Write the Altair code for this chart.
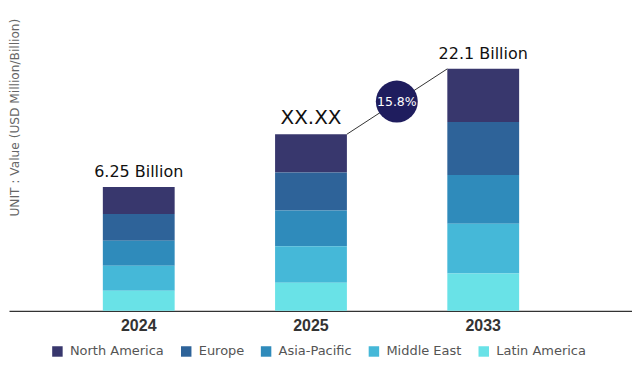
import altair as alt
import pandas as pd

years = ["2024", "2025", "2033"]
regions = ["North America", "Europe", "Asia-Pacific", "Middle East", "Latin America"]
stack_rank = [4, 3, 2, 1, 0]  # North America on top, Latin America at the bottom
colors = ["#38376d", "#2e6399", "#2f8bbb", "#45b8d8", "#69e2e7"]

# segment values per region (same order as `regions`), one list per year
values_2024 = [2.47, 2.47, 2.29, 2.29, 1.83]
values_2025 = [3.50, 3.50, 3.27, 3.35, 2.56]
values_2033 = [4.88, 4.85, 4.46, 4.57, 3.41]

bar_labels = ["6.25 Billion", "XX.XX", "22.1 Billion"]
cagr_label = "15.8%"

rows = []
for yr, vals in zip(years, [values_2024, values_2025, values_2033]):
    for reg, rk, v in zip(regions, stack_rank, vals):
        rows.append({"year": yr, "region": reg, "rank": rk, "value": v})
df = pd.DataFrame(rows)

totals = df.groupby("year", sort=False)["value"].sum()
label_df = pd.DataFrame({"year": years, "total": [totals[y] for y in years], "label": bar_labels})
conn_df = pd.DataFrame({
    "y_from": ["2025"], "y_to": ["2033"],
    "v_from": [totals["2025"]], "v_to": [totals["2033"]],
    "mid": [(totals["2025"] + totals["2033"]) / 2], "label": [cagr_label],
})

x_scale = alt.Scale(domain=years, paddingInner=0.583, paddingOuter=0.6, align=0.454)
y_scale = alt.Scale(domain=[0, 27.72], nice=False, zero=True)

bars = alt.Chart(df).mark_bar().encode(
    x=alt.X("year:N", scale=x_scale, sort=years,
            axis=alt.Axis(title=None, labelAngle=0, ticks=False, labelPadding=7,
                          labelFont="Liberation Sans", labelFontWeight="bold",
                          labelFontSize=16, labelColor="#333333",
                          domainColor="#333333", domainWidth=1.3)),
    y=alt.Y("value:Q", stack="zero", scale=y_scale,
            axis=alt.Axis(title="UNIT : Value (USD Million/Billion)", labels=False,
                          ticks=False, domain=False, grid=False,
                          titleFont="DejaVu Sans", titleFontSize=12.2,
                          titleFontWeight="normal", titleColor="#666666",
                          titleAngle=270, titleX=5.5, titleY=109,
                          titleAlign="center", titleBaseline="middle")),
    color=alt.Color("region:N", scale=alt.Scale(domain=regions, range=colors),
                    legend=alt.Legend(title=None, orient="none", legendX=42, legendY=337,
                                      direction="horizontal", symbolType="square",
                                      symbolSize=110, symbolStrokeWidth=0,
                                      labelFont="DejaVu Sans", labelFontSize=13,
                                      labelColor="#555555", columnPadding=15,
                                      labelOffset=6)),
    order=alt.Order("rank:Q", sort="ascending"),
)

texts = alt.Chart(label_df).mark_text(
    baseline="alphabetic", dy=-10, font="DejaVu Sans", color="#111111"
).encode(
    x=alt.X("year:N", scale=x_scale, sort=years),
    y=alt.Y("total:Q", scale=y_scale),
    text="label:N",
    size=alt.condition("datum.year == '2025'", alt.value(20), alt.value(16)),
)

connector = alt.Chart(conn_df).mark_rule(color="#333333", strokeWidth=1).encode(
    x=alt.X("y_from:N", scale=x_scale, sort=years, bandPosition=1),
    x2=alt.X2("y_to:N", bandPosition=0),
    y=alt.Y("v_from:Q", scale=y_scale),
    y2="v_to:Q",
)

bubble = alt.Chart(conn_df).mark_circle(size=1764, opacity=1, color="#1f1d5e", xOffset=50).encode(
    x=alt.X("y_from:N", scale=x_scale, sort=years, bandPosition=1),
    y=alt.Y("mid:Q", scale=y_scale),
)

bubble_text = alt.Chart(conn_df).mark_text(
    font="DejaVu Sans", fontSize=12.5, color="white", baseline="middle", align="center",
    xOffset=50,
).encode(
    x=alt.X("y_from:N", scale=x_scale, sort=years, bandPosition=1),
    y=alt.Y("mid:Q", scale=y_scale),
    text="label:N",
)

chart = alt.layer(bars, texts, connector, bubble, bubble_text).properties(
    width=624, height=303, padding={"left": 0, "top": 0, "right": 0, "bottom": 0},
    background="white",
).configure_view(stroke=None)

chart.save("out.html", embed_options={"renderer": "svg", "actions": False})
